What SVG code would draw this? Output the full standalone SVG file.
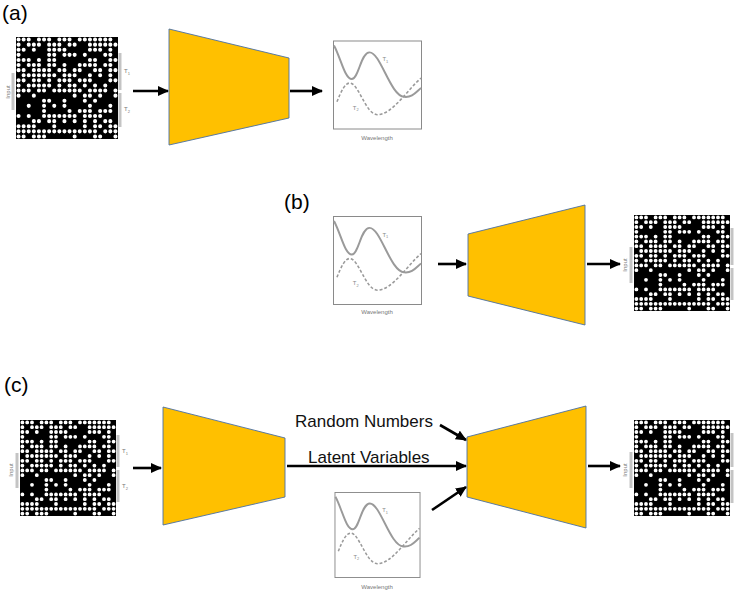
<svg xmlns="http://www.w3.org/2000/svg" xmlns:xlink="http://www.w3.org/1999/xlink" width="735" height="594" viewBox="0 0 735 594">
  <style>
    .panel { font-family: "Liberation Sans", Arial, sans-serif; font-size: 21px; fill: #000; }
    .lbl { font-family: "Liberation Sans", Arial, sans-serif; font-size: 17px; fill: #111; }
    .tiny { font-family: "Liberation Sans", Arial, sans-serif; font-size: 6px; fill: #777; }
    .trap { fill: #FFC000; stroke: #4a6fa5; stroke-width: 0.9; }
    .arrow { stroke: #000; stroke-width: 2.6; fill: none; marker-end: url(#head); }
    .brk { stroke: #c4c4c4; stroke-width: 3; }
  </style>
  <defs>
    <marker id="head" markerUnits="userSpaceOnUse" markerWidth="11" markerHeight="10" refX="10" refY="5" orient="auto">
      <path d="M0,0 L11,5 L0,10 Z" fill="#000"/>
    </marker>

    <!-- binary pattern: white dots on black, 20 x 20 cells -->
    <symbol id="pattern" viewBox="0 0 20 20">
      <rect width="20" height="20" fill="#000"/>
      <g fill="none" stroke="#fff" stroke-width="0.8" stroke-linecap="round">
        <path d="M.5 .5h0m1 0h0m1 0h0m2 0h0m1 0h0m1 0h0m2 0h0m1 0h0m1 0h0m2 0h0m1 0h0m1 0h0m1 0h0m1 0h0m1 0h0m1 0h0"/>
        <path d="M.5 1.5h0m2 0h0m1 0h0m1 0h0m2 0h0m1 0h0m1 0h0m2 0h0m1 0h0m3 0h0m1 0h0m1 0h0m1 0h0m1 0h0m1 0h0"/>
        <path d="M.5 2.5h0m1 0h0m2 0h0m3 0h0m1 0h0m1 0h0m1 0h0m5 0h0m1 0h0m1 0h0m2 0h0"/>
        <path d="M.5 3.5h0m6 0h0m1 0h0m2 0h0m1 0h0m1 0h0m2 0h0m4 0h0m1 0h0"/>
        <path d="M.5 4.5h0m1 0h0m1 0h0m2 0h0m2 0h0m1 0h0m7 0h0m1 0h0m3 0h0m1 0h0"/>
        <path d="M.5 5.5h0m2 0h0m1 0h0m1 0h0m2 0h0m1 0h0m2 0h0m3 0h0m1 0h0m1 0h0m1 0h0m2 0h0m1 0h0"/>
        <path d="M.5 6.5h0m1 0h0m2 0h0m1 0h0m1 0h0m1 0h0m2 0h0m1 0h0m2 0h0m1 0h0m3 0h0m1 0h0m2 0h0m1 0h0"/>
        <path d="M1.5 7.5h0m1 0h0m1 0h0m1 0h0m1 0h0m1 0h0m1 0h0m2 0h0m1 0h0m1 0h0m3 0h0m2 0h0m2 0h0"/>
        <path d="M.5 8.5h0m1 0h0m2 0h0m1 0h0m2 0h0m2 0h0m1 0h0m1 0h0m2 0h0m1 0h0m1 0h0m4 0h0m1 0h0"/>
        <path d="M.5 9.5h0m2 0h0m1 0h0m1 0h0m1 0h0m1 0h0m2 0h0m2 0h0m1 0h0m2 0h0m2 0h0m2 0h0"/>
        <path d="M.5 10.5h0m1 0h0m1 0h0m2 0h0m1 0h0m2 0h0m1 0h0m1 0h0m1 0h0m1 0h0m1 0h0m2 0h0m1 0h0m1 0h0m1 0h0m2 0h0"/>
        <path d="M.5 11.5h0m3 0h0m8 0h0m2 0h0m1 0h0m2 0h0m3 0h0"/>
        <path d="M5.5 12.5h0m1 0h0m3 0h0m4 0h0m2 0h0"/>
        <path d="M2.5 13.5h0m3 0h0m2 0h0m2 0h0m5 0h0m4 0h0"/>
        <path d="M5.5 14.5h0m5 0h0m2 0h0m1 0h0m1 0h0m2 0h0m1 0h0m1 0h0"/>
        <path d="M.5 15.5h0m2 0h0m3 0h0m1 0h0m1 0h0m1 0h0m1 0h0m1 0h0m1 0h0m2 0h0m1 0h0m1 0h0m1 0h0"/>
        <path d="M3.5 16.5h0m1 0h0m2 0h0m1 0h0m2 0h0m2 0h0m2 0h0m2 0h0m2 0h0m1 0h0"/>
        <path d="M.5 17.5h0m1 0h0m1 0h0m1 0h0m4 0h0m6 0h0m2 0h0m1 0h0m2 0h0m1 0h0"/>
        <path d="M.5 18.5h0m1 0h0m1 0h0m1 0h0m1 0h0m1 0h0m1 0h0m1 0h0m1 0h0m1 0h0m1 0h0m1 0h0m1 0h0m1 0h0m1 0h0m1 0h0m2 0h0m1 0h0m1 0h0"/>
        <path d="M.5 19.5h0m1 0h0m2 0h0m1 0h0m1 0h0m6 0h0m4 0h0m1 0h0m3 0h0"/>
      </g>
    </symbol>

    <!-- transmission spectra plot, 90 x 90 frame -->
    <symbol id="spectrum" viewBox="0 0 90 90" overflow="visible">
      <rect x="0.5" y="0.5" width="89" height="89" fill="#fff" stroke="#8a8a8a" stroke-width="1"/>
      <path d="M1,5 C8,18 12,39 19,39 C26,39 28,12 37,12 C48,12 58,56 72,57 C80,58 84,52 89,48" fill="none" stroke="#9a9a9a" stroke-width="2"/>
      <path d="M4,62 C8,52 12,43 17,43 C26,43 33,75 45,75 C60,75 75,50 89,38" fill="none" stroke="#9a9a9a" stroke-width="1.6" stroke-dasharray="3 2"/>
      <text x="50" y="21" font-family="Liberation Sans, Arial, sans-serif" font-size="6" fill="#888">T<tspan font-size="4" dy="1.5">1</tspan></text>
      <text x="20" y="70" font-family="Liberation Sans, Arial, sans-serif" font-size="6" fill="#888">T<tspan font-size="4" dy="1.5">2</tspan></text>
    </symbol>
  </defs>

  <!-- panel labels -->
  <text class="panel" x="2" y="20">(a)</text>
  <text class="panel" x="284" y="209">(b)</text>
  <text class="panel" x="4" y="392">(c)</text>

  <!-- (a) forward model -->
  <g id="a-input">
    <use xlink:href="#pattern" x="16" y="37" width="102" height="102"/>
    <line class="brk" x1="120" y1="53" x2="120" y2="90"/>
    <line class="brk" x1="120" y1="93" x2="120" y2="127"/>
    <line class="brk" x1="13" y1="73" x2="13" y2="110"/>
    <text class="tiny" transform="translate(10,92) rotate(-90)" text-anchor="middle">Input</text>
    <text class="tiny" x="124" y="73">T<tspan font-size="4" dy="1.5">1</tspan></text>
    <text class="tiny" x="124" y="111">T<tspan font-size="4" dy="1.5">2</tspan></text>
  </g>
  <g id="a-net">
    <polygon class="trap" points="169,29 289,58 289,118 169,145"/>
  </g>
  <g id="a-spectrum">
    <use xlink:href="#spectrum" x="333" y="40" width="89" height="90"/>
    <text class="tiny" x="377" y="140" text-anchor="middle">Wavelength</text>
  </g>

  <!-- (b) inverse model -->
  <g id="b-spectrum">
    <use xlink:href="#spectrum" x="333" y="216" width="89" height="89"/>
    <text class="tiny" x="377" y="314" text-anchor="middle">Wavelength</text>
  </g>
  <g id="b-net">
    <polygon class="trap" points="468,234 585,205 585,325 468,296"/>
  </g>
  <g id="b-output">
    <use xlink:href="#pattern" x="634" y="215" width="96" height="96"/>
    <line class="brk" x1="732" y1="228" x2="732" y2="265"/>
    <line class="brk" x1="732" y1="268" x2="732" y2="300"/>
    <line class="brk" x1="631" y1="247" x2="631" y2="283"/>
    <text class="tiny" transform="translate(627,265) rotate(-90)" text-anchor="middle">Input</text>
  </g>

  <!-- (c) encoder / decoder -->
  <g id="c-input">
    <use xlink:href="#pattern" x="20" y="420" width="96" height="96"/>
    <line class="brk" x1="118" y1="435" x2="118" y2="467"/>
    <line class="brk" x1="118" y1="470" x2="118" y2="502"/>
    <line class="brk" x1="17" y1="453" x2="17" y2="488"/>
    <text class="tiny" transform="translate(13,470) rotate(-90)" text-anchor="middle">Input</text>
    <text class="tiny" x="122" y="453">T<tspan font-size="4" dy="1.5">1</tspan></text>
    <text class="tiny" x="122" y="488">T<tspan font-size="4" dy="1.5">2</tspan></text>
  </g>
  <g id="c-encoder">
    <polygon class="trap" points="163,407 285,438 285,497 163,525"/>
  </g>
  <g id="c-decoder">
    <polygon class="trap" points="467,437 586,406 586,528 467,497"/>
  </g>
  <g id="c-spectrum">
    <use xlink:href="#spectrum" x="334" y="492" width="87" height="86"/>
    <text class="tiny" x="377" y="589" text-anchor="middle">Wavelength</text>
  </g>
  <g id="c-output">
    <use xlink:href="#pattern" x="634" y="420" width="96" height="96"/>
    <line class="brk" x1="732" y1="433" x2="732" y2="467"/>
    <line class="brk" x1="732" y1="470" x2="732" y2="503"/>
    <line class="brk" x1="631" y1="452" x2="631" y2="488"/>
    <text class="tiny" transform="translate(627,470) rotate(-90)" text-anchor="middle">Input</text>
  </g>
  <text class="lbl" x="295" y="427">Random Numbers</text>
  <text class="lbl" x="308" y="463">Latent Variables</text>

  <!-- connectors -->
  <g id="connectors">
    <line class="arrow" x1="133" y1="91" x2="168" y2="91"/>
    <line class="arrow" x1="290" y1="91" x2="322" y2="91"/>
    <line class="arrow" x1="438" y1="264" x2="466" y2="264"/>
    <line class="arrow" x1="587" y1="264" x2="620" y2="264"/>
    <line class="arrow" x1="133" y1="468" x2="161" y2="468"/>
    <line class="arrow" x1="287" y1="466" x2="466" y2="466"/>
    <line class="arrow" x1="440" y1="425" x2="466" y2="440"/>
    <line class="arrow" x1="432" y1="510" x2="466" y2="487"/>
    <line class="arrow" x1="588" y1="466" x2="620" y2="466"/>
  </g>
</svg>
